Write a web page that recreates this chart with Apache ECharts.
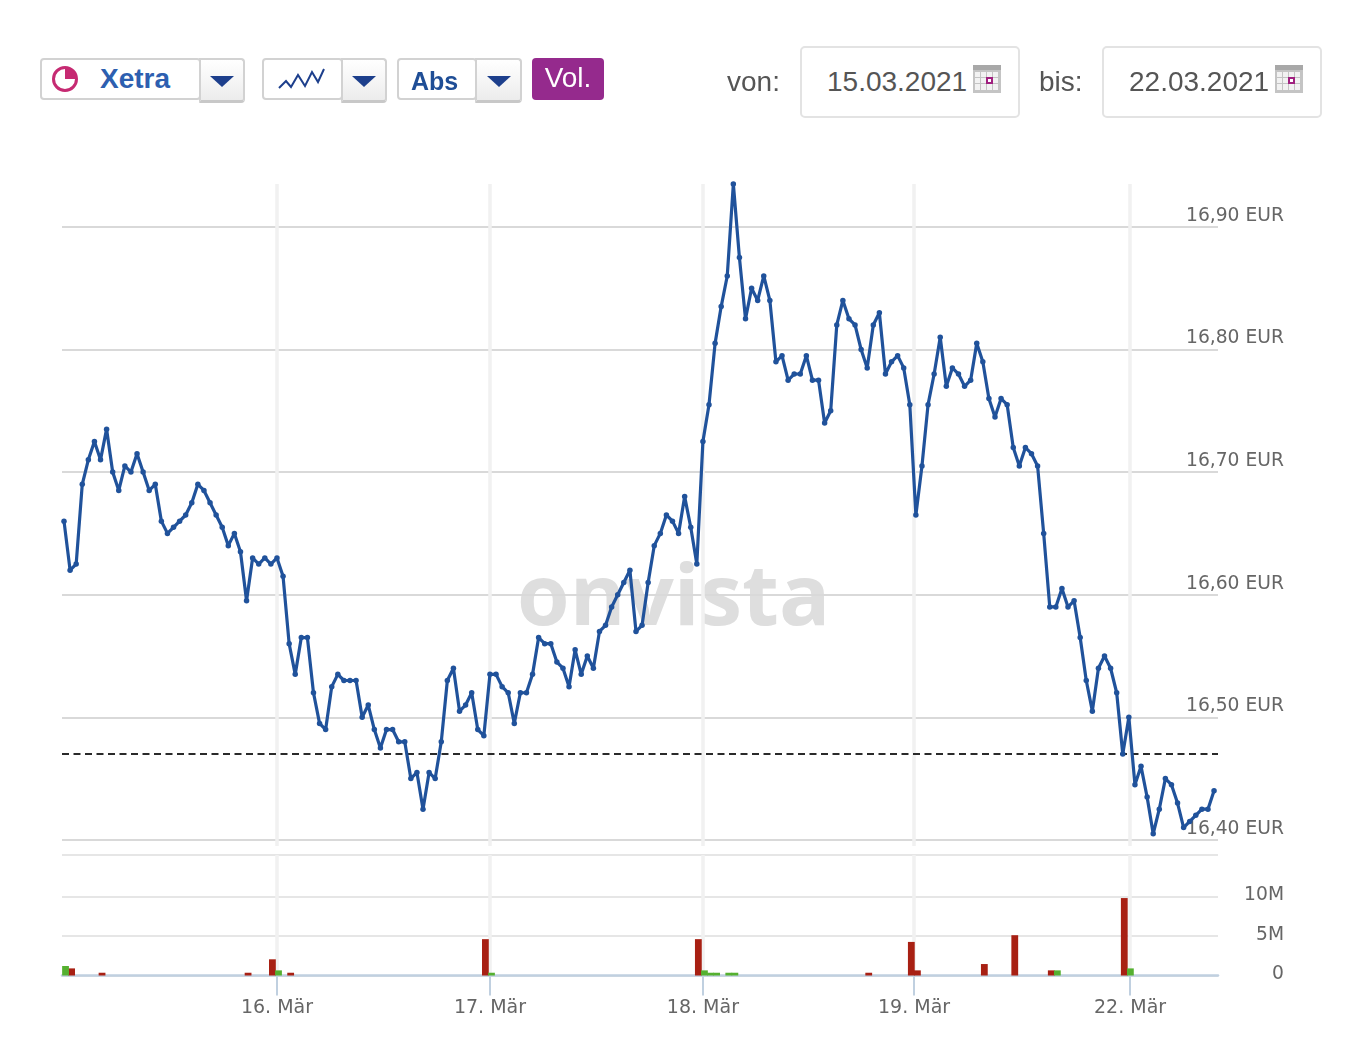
<!DOCTYPE html>
<html lang="de">
<head>
<meta charset="utf-8">
<title>Xetra Chart</title>
<script src="https://cdn.jsdelivr.net/npm/echarts@6/dist/echarts.min.js"></script>
<style>
  html, body { margin: 0; padding: 0; background: #fff; }
  #page { position: relative; width: 1348px; height: 1048px; overflow: hidden; font-family: "Liberation Sans", Arial, sans-serif; }
  #chart { position: absolute; left: 0; top: 0; width: 1348px; height: 1048px; }
  .box { position: absolute; top: 58px; height: 38px; border: 2px solid #d2d2d2; border-radius: 4px; background: #fff; }
  .drop { position: absolute; top: 58px; height: 40px; border: 2px solid #d2d2d2; border-bottom: 3px solid #c8c8c8; border-radius: 0 4px 4px 0; box-sizing: content-box; background: linear-gradient(#ffffff, #ececec); }
  .drop::after { content: ""; position: absolute; left: 50%; top: 16px; margin-left: -12px; border-left: 12px solid transparent; border-right: 12px solid transparent; border-top: 11px solid #1d3f8c; }
  .btn-text { position: absolute; font-weight: bold; line-height: 1; }
  #vol { position: absolute; left: 532px; top: 58px; width: 72px; height: 42px; background: #952a8d; border-radius: 4px; color: #fff; font-size: 28px; line-height: 40px; text-align: center; }
  .lbl { position: absolute; top: 67px; font-size: 28px; line-height: 30px; color: #555; }
  .date { position: absolute; top: 46px; width: 216px; height: 68px; border: 2px solid #e3e3e3; border-radius: 5px; background: #fff; }
  .date span { position: absolute; left: 25px; top: 19px; font-size: 28px; line-height: 30px; color: #555; }
  .date svg { position: absolute; left: 170px; top: 16px; }
</style>
</head>
<body>
<div id="page">
  <div id="chart"></div>

  <div class="box" style="left:40px;width:157px"></div>
  <div class="drop" style="left:199px;width:42px"></div>
  <svg style="position:absolute;left:50px;top:64px" width="30" height="30" viewBox="0 0 30 30">
    <circle cx="15" cy="15" r="11.5" fill="none" stroke="#c62a72" stroke-width="3"/>
    <path d="M15 15 V3.5 A11.5 11.5 0 0 1 26.5 15 Z" fill="#c62a72"/>
  </svg>
  <div class="btn-text" style="left:100px;top:65px;font-size:28px;color:#2d5fb0">Xetra</div>

  <div class="box" style="left:262px;width:77px"></div>
  <div class="drop" style="left:341px;width:42px"></div>
  <svg style="position:absolute;left:276px;top:66px" width="52" height="26" viewBox="0 0 52 26">
    <polyline points="3,22 10,15 15,21 22,9 29,20 36,6 42,16 48,3" fill="none" stroke="#1d3f8c" stroke-width="2"/>
  </svg>

  <div class="box" style="left:397px;width:76px"></div>
  <div class="drop" style="left:475px;width:43px"></div>
  <div class="btn-text" style="left:411px;top:69px;font-size:25px;color:#1f4e96">Abs</div>

  <div id="vol">Vol.</div>

  <div class="lbl" style="left:727px">von:</div>
  <div class="date" style="left:800px">
    <span>15.03.2021</span>
    <svg width="30" height="30" viewBox="0 0 30 30"><use href="#cal"/></svg>
  </div>
  <div class="lbl" style="left:1039px">bis:</div>
  <div class="date" style="left:1102px">
    <span>22.03.2021</span>
    <svg width="30" height="30" viewBox="0 0 30 30"><use href="#cal"/></svg>
  </div>
  <svg width="0" height="0" style="position:absolute">
    <defs>
      <g id="cal">
        <rect x="1" y="1" width="28" height="28" fill="#c4c4c4"/>
        <rect x="1" y="1" width="28" height="5" fill="#a8a8a8"/>
        <g fill="#f2f2f2">
          <rect x="3" y="8" width="5" height="5"/><rect x="9" y="8" width="5" height="5"/><rect x="15" y="8" width="5" height="5"/><rect x="21" y="8" width="5" height="5"/>
          <rect x="3" y="14" width="5" height="5"/><rect x="9" y="14" width="5" height="5"/><rect x="21" y="14" width="5" height="5"/>
          <rect x="3" y="20" width="5" height="6"/><rect x="9" y="20" width="5" height="6"/><rect x="15" y="20" width="5" height="6"/><rect x="21" y="20" width="5" height="6"/>
        </g>
        <rect x="15" y="14" width="5" height="5" fill="#fff" stroke="#a0207f" stroke-width="2"/>
      </g>
    </defs>
  </svg>
</div>

<script>
// one value every 15 min, 35 per trading day
const priceValues = [
  16.66, 16.62, 16.625, 16.69, 16.71, 16.725, 16.71, 16.735, 16.70, 16.685,
  16.705, 16.70, 16.715, 16.70, 16.685, 16.69, 16.66, 16.65, 16.655, 16.66,
  16.665, 16.675, 16.69, 16.685, 16.675, 16.665, 16.655, 16.64, 16.65, 16.635,
  16.595, 16.63, 16.625, 16.63, 16.625, 16.63, 16.615, 16.56, 16.535, 16.565,
  16.565, 16.52, 16.495, 16.49, 16.525, 16.535, 16.53, 16.53, 16.53, 16.50,
  16.51, 16.49, 16.475, 16.49, 16.49, 16.48, 16.48, 16.45, 16.455, 16.425,
  16.455, 16.45, 16.48, 16.53, 16.54, 16.505, 16.51, 16.52, 16.49, 16.485,
  16.535, 16.535, 16.525, 16.52, 16.495, 16.52, 16.52, 16.535, 16.565, 16.56,
  16.56, 16.545, 16.54, 16.525, 16.555, 16.535, 16.55, 16.54, 16.57, 16.575,
  16.59, 16.60, 16.61, 16.62, 16.57, 16.575, 16.61, 16.64, 16.65, 16.665,
  16.66, 16.65, 16.68, 16.655, 16.625, 16.725, 16.755, 16.805, 16.835, 16.86,
  16.935, 16.875, 16.825, 16.85, 16.84, 16.86, 16.84, 16.79, 16.795, 16.775,
  16.78, 16.78, 16.795, 16.775, 16.775, 16.74, 16.75, 16.82, 16.84, 16.825,
  16.82, 16.80, 16.785, 16.82, 16.83, 16.78, 16.79, 16.795, 16.785, 16.755,
  16.665, 16.705, 16.755, 16.78, 16.81, 16.77, 16.785, 16.78, 16.77, 16.775,
  16.805, 16.79, 16.76, 16.745, 16.76, 16.755, 16.72, 16.705, 16.72, 16.715,
  16.705, 16.65, 16.59, 16.59, 16.605, 16.59, 16.595, 16.565, 16.53, 16.505,
  16.54, 16.55, 16.54, 16.52, 16.47, 16.50, 16.445, 16.46, 16.435, 16.405,
  16.425, 16.45, 16.445, 16.43, 16.41, 16.415, 16.42, 16.425, 16.425, 16.44
];
const prevClose = 16.47;

// [position in the series, volume]
const volumeDown = [
  [1, 0.9e6], [6, 0.35e6], [30, 0.35e6], [34, 2.05e6], [37, 0.35e6], [69, 4.6e6],
  [104, 4.6e6], [132, 0.35e6], [139, 4.25e6], [140, 0.65e6], [151, 1.45e6],
  [156, 5.1e6], [162, 0.65e6], [174, 9.8e6]
];
const volumeUp = [
  [0, 1.2e6], [35, 0.65e6], [70, 0.35e6], [105, 0.65e6], [106, 0.35e6], [107, 0.35e6],
  [109, 0.35e6], [110, 0.35e6], [163, 0.65e6], [175, 0.9e6]
];

const dayPositions = [35, 70, 105, 139.7, 175.2];
const dayLabels = ["16. Mär", "17. Mär", "18. Mär", "19. Mär", "22. Mär"];
const priceTicks = [16.4, 16.5, 16.6, 16.7, 16.8, 16.9];
const volumeTicks = [0, 5e6, 10e6];
const volumeTop = 15.25e6;

const labelFont = '"DejaVu Sans", sans-serif';
const chart = echarts.init(document.getElementById("chart"));

chart.setOption({
  animation: false,
  backgroundColor: "#fff",
  graphic: [{
    type: "text", left: 517, top: 558, z: 0, silent: true,
    style: { text: "onvista", fill: "#dedede", font: 'bold 85px "Open Sans", sans-serif' }
  }],
  grid: [
    { left: 62, right: 130, top: 184, height: 662 },
    { left: 62, right: 130, top: 855, height: 120.5 }
  ],
  xAxis: [
    {
      gridIndex: 0, type: "value", min: -0.329, max: 189.65,
      axisLine: { show: false },
      axisTick: { show: false, customValues: dayPositions },
      axisLabel: { show: false },
      splitLine: { show: true, lineStyle: { color: "#f1f1f1", width: 3.5 } }
    },
    {
      gridIndex: 1, type: "value", min: -0.329, max: 189.65,
      axisLine: { show: true, onZero: false, lineStyle: { color: "#c0d0e0", width: 2.5 } },
      axisTick: { show: true, length: 20, customValues: dayPositions, lineStyle: { color: "#c0d0e0", width: 2 } },
      axisLabel: {
        show: true, customValues: dayPositions, margin: 23, color: "#666",
        fontFamily: labelFont, fontSize: 19,
        formatter: (v) => dayLabels[dayPositions.indexOf(v)]
      },
      splitLine: { show: true, lineStyle: { color: "#f1f1f1", width: 3.5 } }
    },
    // bars sit a little right of the price points
    { gridIndex: 1, type: "value", show: false, min: -0.58, max: 189.4 }
  ],
  yAxis: [
    {
      gridIndex: 0, type: "value", position: "right", min: 16.395, max: 16.935, scale: true,
      axisLine: { show: false },
      axisTick: { show: false, customValues: priceTicks },
      axisLabel: {
        customValues: priceTicks, margin: -32, align: "left", verticalAlign: "bottom", lineHeight: 22,
        color: "#666", fontFamily: labelFont, fontSize: 18.7,
        formatter: (v) => v.toFixed(2).replace(".", ",") + " EUR"
      },
      splitLine: { show: true, lineStyle: { color: "#d9d9d9", width: 2 } }
    },
    {
      gridIndex: 1, type: "value", position: "right", min: 0, max: volumeTop,
      axisLine: { show: false },
      axisTick: { show: false, customValues: volumeTicks.concat(volumeTop) },
      axisLabel: {
        customValues: volumeTicks, margin: 66, align: "right", verticalAlign: "bottom", lineHeight: 2,
        color: "#666", fontFamily: labelFont, fontSize: 18.7,
        formatter: (v) => (v === 0 ? "0" : v / 1e6 + "M")
      },
      splitLine: { show: true, lineStyle: { color: "#e6e6e6", width: 2 } }
    }
  ],
  series: [
    {
      name: "Kurs", type: "line", xAxisIndex: 0, yAxisIndex: 0, clip: false, z: 5,
      data: priceValues.map((v, i) => [i, v]),
      showSymbol: true, symbol: "circle", symbolSize: 5.5,
      lineStyle: { color: "#20529b", width: 3.2, join: "round" },
      itemStyle: { color: "#20529b" },
      markLine: {
        silent: true, symbol: "none", label: { show: false },
        lineStyle: { color: "#2a2a2a", type: [7, 4.5], width: 1.8 },
        data: [{ yAxis: prevClose }]
      }
    },
    {
      name: "Umsatz fallend", type: "bar", xAxisIndex: 2, yAxisIndex: 1, barWidth: 6.8, barGap: "-100%",
      data: volumeDown, itemStyle: { color: "#a82013" }
    },
    {
      name: "Umsatz steigend", type: "bar", xAxisIndex: 2, yAxisIndex: 1, barWidth: 6.8, barGap: "-100%",
      data: volumeUp, itemStyle: { color: "#55b030" }
    }
  ]
});
</script>
</body>
</html>
